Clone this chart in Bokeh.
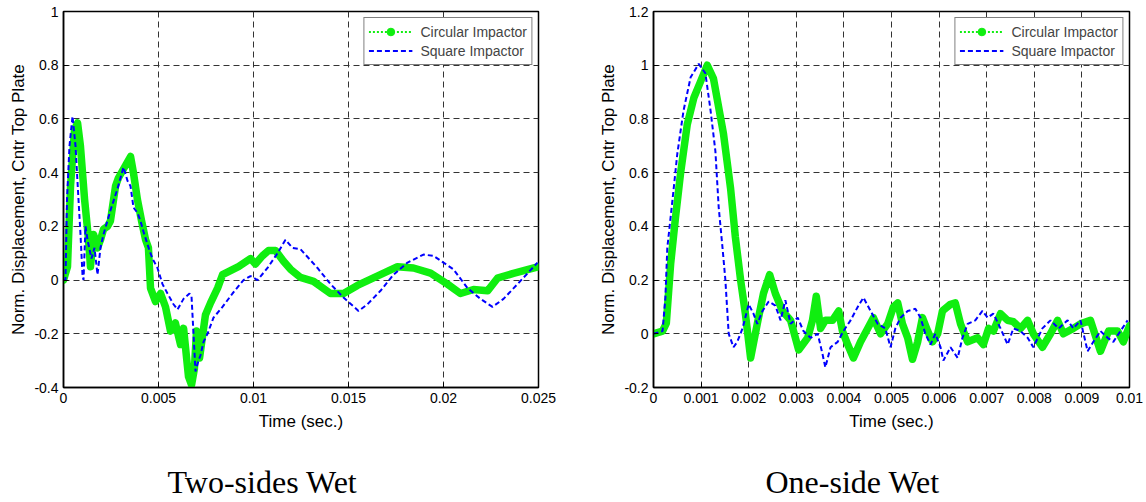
import numpy as np
from bokeh.plotting import figure
from bokeh.layouts import row
from bokeh.models import (FixedTicker, CustomJSTickFormatter, Legend, LegendItem,
                          Title, Range1d)
from bokeh.embed import file_html
from bokeh.resources import INLINE

# ---------------- data ----------------
# Two-sides wet
tw_circ_t = [0, 0.00021, 0.00037, 0.00058, 0.00074, 0.00089, 0.00111, 0.00132, 0.00142, 0.00158,
             0.00179, 0.00195, 0.00211, 0.00232, 0.00247, 0.00274, 0.00289, 0.00321, 0.00353, 0.00368,
             0.00389, 0.00411, 0.00432, 0.00447, 0.00458, 0.00484, 0.00511, 0.00537, 0.00563, 0.00589,
             0.00616, 0.00632, 0.00658, 0.00674, 0.00689, 0.00700, 0.00716, 0.00747, 0.00774, 0.00811,
             0.00837, 0.00879, 0.00921, 0.00984, 0.01010, 0.01047, 0.01079, 0.01116, 0.01158, 0.01195,
             0.01247, 0.01316, 0.01405, 0.01474, 0.01547, 0.01668, 0.01758, 0.01842, 0.01932, 0.02021,
             0.02089, 0.02158, 0.02232, 0.02284, 0.02368, 0.02500]
tw_circ_v = [0, 0.05, 0.35, 0.56, 0.585, 0.50, 0.30, 0.15, 0.05, 0.17,
             0.12, 0.15, 0.19, 0.20, 0.22, 0.35, 0.38, 0.42, 0.46, 0.40,
             0.30, 0.22, 0.15, 0.12, -0.03, -0.08, -0.05, -0.10, -0.19, -0.16,
             -0.24, -0.18, -0.36, -0.39, -0.33, -0.19, -0.29, -0.13, -0.085, -0.03,
             0.02, 0.035, 0.05, 0.08, 0.06, 0.09, 0.11, 0.11, 0.07, 0.04,
             0.01, -0.005, -0.05, -0.05, -0.02, 0.02, 0.05, 0.045, 0.026, -0.015,
             -0.05, -0.035, -0.04, 0.007, 0.025, 0.05]
tw_sq_t = [0, 0.000105, 0.000184, 0.000316, 0.000474, 0.000632, 0.000789, 0.000895, 0.001, 0.001053,
           0.001158, 0.001263, 0.001474, 0.001632, 0.001789, 0.001947, 0.002105, 0.002474, 0.002842, 0.003158,
           0.003368, 0.003526, 0.003684, 0.003895, 0.004053, 0.004211, 0.004368, 0.004526, 0.004684, 0.004947,
           0.005211, 0.005474, 0.005789, 0.006, 0.006316, 0.006632, 0.006737, 0.006947, 0.007105, 0.007211,
           0.007368, 0.007579, 0.007895, 0.008368, 0.008895, 0.009474, 0.009842, 0.010211, 0.010737, 0.011263,
           0.011684, 0.012053, 0.012474, 0.013368, 0.014053, 0.014737, 0.015526, 0.016, 0.016684, 0.017368,
           0.018105, 0.018947, 0.019474, 0.02, 0.020526, 0.021263, 0.021947, 0.022579, 0.023158, 0.023895,
           0.024421, 0.024947]
tw_sq_v = [0, 0.0, 0.3, 0.5, 0.61, 0.5, 0.3, 0.17, 0.02, 0.0,
           0.2, 0.15, 0.08, 0.12, 0.02, 0.12, 0.17, 0.26, 0.34, 0.42,
           0.37, 0.35, 0.27, 0.25, 0.22, 0.18, 0.145, 0.11, 0.08, 0.045,
           -0.015, -0.05, -0.09, -0.11, -0.07, -0.05, -0.06, -0.34, -0.3, -0.28,
           -0.23, -0.2, -0.14, -0.1, -0.05, 0.0, 0.015, 0.0, 0.045, 0.1,
           0.15, 0.12, 0.115, 0.045, -0.015, -0.065, -0.115, -0.09, -0.04, 0.02,
           0.065, 0.095, 0.09, 0.065, 0.04, -0.03, -0.07, -0.1, -0.07, -0.015,
           0.025, 0.065]

# One-side wet
ow_circ_t = [0, 0.00019, 0.00027, 0.00036, 0.00046, 0.00057, 0.00071, 0.00085, 0.00099, 0.00113,
             0.00126, 0.00147, 0.00162, 0.00172, 0.00183, 0.00193, 0.00204, 0.00218, 0.00231, 0.00244,
             0.00256, 0.00271, 0.00288, 0.00305, 0.00324, 0.00334, 0.00342, 0.00351, 0.00361, 0.00376,
             0.00389, 0.00397, 0.00408, 0.0042, 0.00435, 0.0045, 0.00462, 0.00477, 0.00492, 0.00504,
             0.00513, 0.00523, 0.00534, 0.00544, 0.00555, 0.00565, 0.00576, 0.00586, 0.00597, 0.00607,
             0.00624, 0.00634, 0.00645, 0.0066, 0.00681, 0.00693, 0.00704, 0.00714, 0.00729, 0.00744,
             0.00756, 0.00771, 0.00786, 0.00798, 0.00817, 0.00834, 0.00849, 0.00861, 0.00882, 0.00897,
             0.00918, 0.00939, 0.00956, 0.00975, 0.00987, 0.01]
ow_circ_v = [0, 0.01, 0.04, 0.26, 0.43, 0.6, 0.78, 0.88, 0.94, 1.0,
             0.95, 0.745, 0.54, 0.36, 0.2, 0.075, -0.09, 0.037, 0.15, 0.22,
             0.15, 0.085, 0.05, -0.06, -0.015, 0.05, 0.14, 0.02, 0.05, 0.05,
             0.085, 0.01, -0.04, -0.09, -0.03, 0.02, 0.06, 0.0, 0.037, 0.1,
             0.115, 0.037, -0.015, -0.095, -0.03, 0.06, 0.01, -0.03, 0.0, 0.085,
             0.11, 0.115, 0.037, -0.03, -0.015, -0.04, 0.02, 0.01, 0.075, 0.05,
             0.045, 0.02, 0.05, 0.0, -0.05, 0.0, 0.05, 0.0, 0.02, 0.037,
             0.05, -0.065, 0.01, 0.01, -0.03, 0.03]
ow_sq_t = [0, 0.00019, 0.00025, 0.00029, 0.0004, 0.0005, 0.00063, 0.00078, 0.00095, 0.00109,
           0.0012, 0.0013, 0.00137, 0.00145, 0.00151, 0.00158, 0.00168, 0.00176, 0.00187, 0.002,
           0.0021, 0.00218, 0.00229, 0.00242, 0.00256, 0.00267, 0.00277, 0.00288, 0.00303, 0.00315,
           0.0033, 0.00345, 0.00355, 0.00361, 0.00372, 0.00387, 0.00399, 0.00414, 0.00429, 0.00441,
           0.00456, 0.00471, 0.00487, 0.00498, 0.00508, 0.00519, 0.00534, 0.0055, 0.00561, 0.00571,
           0.00582, 0.00592, 0.00603, 0.00609, 0.00624, 0.00639, 0.00649, 0.0066, 0.00676, 0.00691,
           0.00702, 0.00714, 0.00729, 0.00744, 0.00756, 0.00771, 0.00786, 0.00798, 0.00817, 0.00834,
           0.00851, 0.0087, 0.00882, 0.00897, 0.00912, 0.00924, 0.00939, 0.00954, 0.00966, 0.00981,
           0.00996]
ow_sq_v = [0, 0.01, 0.135, 0.32, 0.5, 0.67, 0.83, 0.955, 1.005, 0.97,
           0.83, 0.68, 0.47, 0.32, 0.2, 0.0, -0.05, -0.03, 0.02, 0.11,
           0.075, 0.037, 0.085, 0.12, 0.105, 0.05, 0.125, 0.037, 0.06, 0.01,
           -0.015, 0.0, -0.075, -0.125, -0.05, -0.03, 0.01, 0.05, 0.1, 0.135,
           0.085, 0.037, 0.02, -0.05, 0.02, 0.06, 0.085, 0.093, 0.06, 0.0,
           -0.04, 0.0, -0.05, -0.1, -0.05, -0.09, -0.015, 0.037, 0.05, 0.085,
           0.06, 0.075, 0.02, -0.04, 0.02, 0.01, -0.015, -0.05, 0.02, 0.05,
           0.02, 0.05, 0.02, 0.05, -0.065, -0.03, 0.01, -0.015, -0.03, 0.01,
           0.05]

x_ticks_left = [0, 0.005, 0.01, 0.015, 0.02, 0.025]
y_ticks_left = [-0.4, -0.2, 0, 0.2, 0.4, 0.6, 0.8, 1]
x_ticks_right = [0, 0.001, 0.002, 0.003, 0.004, 0.005, 0.006, 0.007, 0.008, 0.009, 0.01]
y_ticks_right = [-0.2, 0, 0.2, 0.4, 0.6, 0.8, 1, 1.2]
series_labels = ["Circular Impactor", "Square Impactor"]
x_label = "Time (sec.)"
y_label = "Norm. Displacement, Cntr Top Plate"
captions = ["Two-sides Wet", "One-side Wet"]

GREEN = "#10ee10"
BLUE = "#0000ff"
SANS = "Liberation Sans"


def make_panel(width, b_left, b_right, x_rng, y_rng, xt, yt, ct, cv, st, sv, caption, cap_off):
    p = figure(width=width, height=502, output_backend="svg", toolbar_location=None,
               x_range=Range1d(*x_rng), y_range=Range1d(*y_rng),
               min_border_left=b_left, min_border_right=b_right,
               min_border_top=11, min_border_bottom=115,
               background_fill_color="white", border_fill_color="white")
    fmt = CustomJSTickFormatter(code="return String(parseFloat(tick.toFixed(4)));")
    p.xaxis.ticker = FixedTicker(ticks=xt)
    p.yaxis.ticker = FixedTicker(ticks=yt)
    p.xaxis.axis_label = x_label
    p.yaxis.axis_label = y_label
    for ax in (p.xaxis[0], p.yaxis[0]):
        ax.formatter = fmt
        ax.major_label_text_font = SANS
        ax.major_label_text_font_size = "14px"
        ax.major_label_text_color = "black"
        ax.axis_label_text_font = SANS
        ax.axis_label_text_font_size = "17px"
        ax.axis_label_text_font_style = "normal"
        ax.axis_label_text_color = "black"
        ax.major_tick_in = 5
        ax.major_tick_out = 0
        ax.minor_tick_in = 0
        ax.minor_tick_out = 0
        ax.axis_line_color = "black"
        ax.axis_line_width = 1.5
        ax.major_tick_line_color = "black"
    p.xaxis.major_label_standoff = 5
    p.xaxis.axis_label_standoff = 6
    p.yaxis.major_label_standoff = 5
    p.yaxis.axis_label_standoff = 3
    p.grid.grid_line_color = "#333333"
    p.grid.grid_line_dash = "6 4"
    p.grid.grid_line_width = 1
    p.outline_line_color = "black"
    p.outline_line_width = 1.5
    p.outline_line_alpha = 1

    p.line(ct, cv, line_color=GREEN, line_width=7.5, line_join="round", line_cap="round")
    p.line(st, sv, line_color=BLUE, line_width=2, line_dash="5 3")

    nan = np.array([np.nan])
    l1 = p.line(nan, nan, line_color=GREEN, line_width=2, line_dash="2 2")
    m1 = p.scatter(nan, nan, size=7, fill_color=GREEN, line_color=GREEN)
    l2 = p.line(nan, nan, line_color=BLUE, line_width=2, line_dash="5 3")
    legend = Legend(items=[LegendItem(label=series_labels[0], renderers=[l1, m1]),
                           LegendItem(label=series_labels[1], renderers=[l2])],
                    location="top_right", margin=6, padding=4, spacing=0,
                    glyph_width=44, glyph_height=19, label_height=19, label_standoff=8,
                    label_text_font=SANS, label_text_font_size="14px",
                    border_line_color="black", border_line_width=1.2,
                    background_fill_color="white", background_fill_alpha=1)
    p.add_layout(legend)
    # blank spacer panel between the x axis and the caption
    p.add_layout(Title(text=" ", text_font_size="1px", standoff=24), "below")
    p.add_layout(Title(text=caption, align="left", offset=cap_off, vertical_align="bottom",
                       text_font="Liberation Serif", text_font_size="32px",
                       text_font_style="normal", text_color="black", standoff=2), "below")
    return p


p1 = make_panel(583, 63, 45, (0, 0.025), (-0.4, 1.0), x_ticks_left, y_ticks_left,
                tw_circ_t, tw_circ_v, tw_sq_t, tw_sq_v, captions[0], 104)
p2 = make_panel(563, 70, 17, (0, 0.01), (-0.2, 1.2), x_ticks_right, y_ticks_right,
                ow_circ_t, ow_circ_v, ow_sq_t, ow_sq_v, captions[1], 112)

layout = row(p1, p2)
open("out.html", "w").write(file_html(layout, INLINE))
